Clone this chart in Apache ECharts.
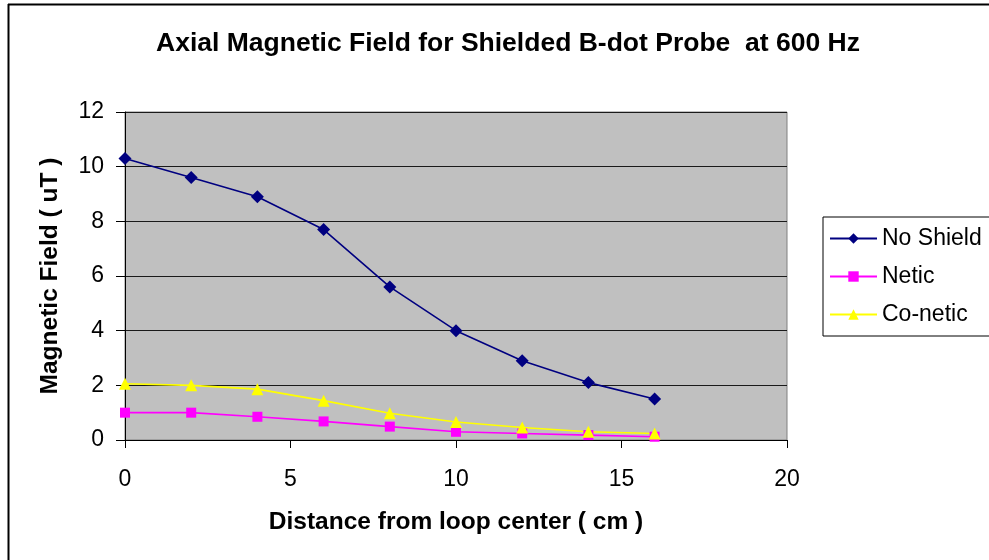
<!DOCTYPE html>
<html>
<head>
<meta charset="utf-8">
<title>Axial Magnetic Field for Shielded B-dot Probe at 600 Hz</title>
<script src="https://cdn.jsdelivr.net/npm/echarts@6/dist/echarts.min.js"></script>
<style>
  html, body { margin: 0; padding: 0; background: #ffffff; }
  #chart { width: 989px; height: 560px; }
</style>
</head>
<body>
<div id="chart"></div>
<script>
// Distance from the loop centre (cm)
const distance = [0, 2, 4, 6, 8, 10, 12, 14, 16];

// Axial field readings (uT) for each shielding case
const noShield = [10.3, 9.6, 8.9, 7.7, 5.6, 4.0, 2.9, 2.1, 1.5];
const netic    = [1.0, 1.0, 0.85, 0.68, 0.49, 0.3, 0.24, 0.18, 0.12];
const coNetic  = [2.06, 2.0, 1.86, 1.44, 0.98, 0.66, 0.46, 0.3, 0.24];

const seriesNames = ['No Shield', 'Netic', 'Co-netic'];

function pairs(values) {
  return distance.map((d, i) => [d, values[i]]);
}

const FONT = '"Liberation Sans", Arial, sans-serif';

const chart = echarts.init(document.getElementById('chart'), null, { renderer: 'canvas' });

chart.setOption({
  animation: false,
  backgroundColor: '#ffffff',
  title: {
    text: 'Axial Magnetic Field for Shielded B-dot Probe  at 600 Hz',
    left: 503,
    top: 25,
    textAlign: 'center',
    textStyle: { fontFamily: FONT, fontWeight: 'bold', fontSize: 26.5, color: '#000' }
  },
  grid: {
    left: 125, top: 112, width: 662, height: 328,
    show: true,
    backgroundColor: '#c0c0c0',
    borderColor: '#808080',
    borderWidth: 1
  },
  legend: {
    data: seriesNames,
    orient: 'vertical',
    left: 823,
    top: 217,
    padding: [10, 14, 10, 6],
    itemGap: 15,
    itemWidth: 47,
    itemHeight: 13,
    backgroundColor: '#ffffff',
    borderColor: '#000',
    borderWidth: 1,
    borderRadius: 0,
    textStyle: { fontFamily: FONT, fontSize: 23, color: '#000', padding: [0, 0, 0, 0] }
  },
  xAxis: {
    type: 'value',
    min: 0, max: 20, interval: 5,
    name: 'Distance from loop center ( cm )',
    nameLocation: 'middle',
    nameGap: 70,
    nameTextStyle: { fontFamily: FONT, fontWeight: 'bold', fontSize: 24.5, color: '#000' },
    axisLine: { onZero: false, lineStyle: { color: '#000', width: 1 } },
    axisTick: { show: true, inside: false, length: 8, lineStyle: { color: '#000' } },
    axisLabel: { fontFamily: FONT, fontSize: 23, color: '#000', margin: 28 },
    splitLine: { show: false }
  },
  yAxis: {
    type: 'value',
    min: 0, max: 12, interval: 2,
    name: 'Magnetic Field ( uT )',
    nameLocation: 'middle',
    nameGap: 62,
    nameTextStyle: { fontFamily: FONT, fontWeight: 'bold', fontSize: 24.5, color: '#000' },
    axisLine: { show: true, lineStyle: { color: '#000', width: 1 } },
    axisTick: { show: true, inside: false, length: 9, lineStyle: { color: '#000' } },
    axisLabel: { fontFamily: FONT, fontSize: 23, color: '#000', margin: 21 },
    splitLine: { show: true, lineStyle: { color: '#1a1a1a', width: 1 } }
  },
  series: [
    {
      name: 'No Shield', type: 'line', data: pairs(noShield),
      symbol: 'diamond', symbolSize: 13,
      itemStyle: { color: '#000080' },
      lineStyle: { color: '#000080', width: 1.6 }
    },
    {
      name: 'Netic', type: 'line', data: pairs(netic),
      symbol: 'rect', symbolSize: 10,
      itemStyle: { color: '#ff00ff' },
      lineStyle: { color: '#ff00ff', width: 1.6 }
    },
    {
      name: 'Co-netic', type: 'line', data: pairs(coNetic),
      symbol: 'triangle', symbolSize: 12,
      itemStyle: { color: '#ffff00' },
      lineStyle: { color: '#ffff00', width: 1.6 }
    }
  ],
  graphic: [
    { type: 'line', shape: { x1: 8, y1: 4.5, x2: 989, y2: 4.5 }, style: { stroke: '#000', lineWidth: 2 }, silent: true },
    { type: 'line', shape: { x1: 8.5, y1: 4, x2: 8.5, y2: 560 }, style: { stroke: '#000', lineWidth: 2 }, silent: true }
  ]
});
</script>
</body>
</html>
